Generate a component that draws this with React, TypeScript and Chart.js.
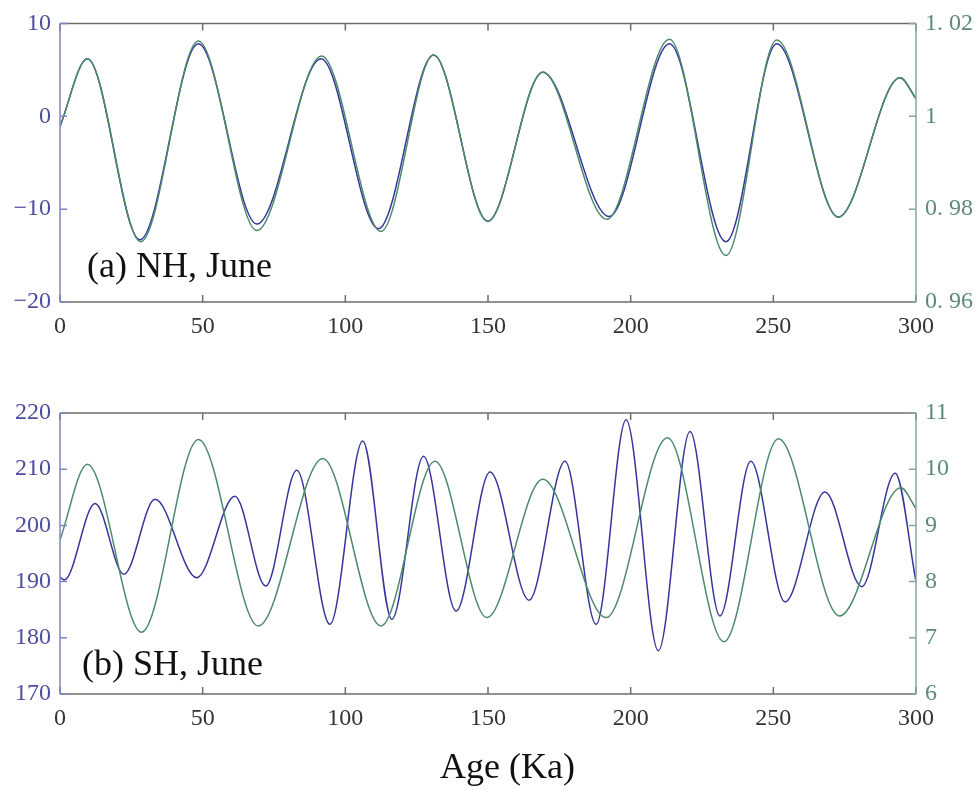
import React, { useEffect, useRef } from "react";
import { Chart, registerables } from "chart.js";

Chart.register(...registerables);

// ---------- shared x axis ----------
const xTicks = [0, 50, 100, 150, 200, 250, 300];

// ---------- (a) NH, June ----------
const nhTimeA = [0, 9.6, 28.0, 48.5, 69.0, 91.5, 111.6, 130.9, 149.9, 169.2, 192.5, 213.6, 233.4, 251.2, 272.8, 294.4, 300];
const nhInsolation = [-1.1, 6.2, -13.3, 7.8, -11.6, 6.2, -12.1, 6.6, -11.3, 4.75, -10.8, 7.8, -13.5, 7.8, -10.85, 4.15, 1.9];
const nhTimeB = [0, 9.6, 28.3, 48.5, 69.0, 91.7, 112.5, 130.9, 149.9, 169.2, 191.6, 213.6, 233.4, 251.2, 272.8, 294.4, 300];
const nhRatio = [0.9978, 1.0124, 0.973, 1.0162, 0.9754, 1.013, 0.9752, 1.0132, 0.9774, 1.0095, 0.9778, 1.0166, 0.97, 1.0164, 0.9783, 1.0083, 1.0038];
const nhLeftTicks = [-20, -10, 0, 10];
const nhLeftLabels = ["\u221220", "\u221210", "0", "10"];
const nhRightTicks = [0.96, 0.98, 1, 1.02];
const nhRightLabels = ["0. 96", "0. 98", "1", "1. 02"];

// ---------- (b) SH, June ----------
const shTimeA = [0, 1.5, 12.3, 22.4, 33.3, 47.9, 61.3, 72.1, 83.0, 94.6, 106.1, 116.3, 127.4, 138.8, 150.7, 164.4, 177.0, 187.9, 198.4, 209.7, 220.8, 231.3, 242.1, 254.1, 268.1, 281.0, 292.7, 300];
const shInsolation = [190.8, 190.3, 203.9, 191.3, 204.65, 190.7, 205.2, 189.2, 209.8, 182.4, 215.0, 183.3, 212.3, 184.75, 209.5, 186.7, 211.4, 182.4, 218.8, 177.7, 216.7, 183.9, 211.4, 186.4, 205.95, 189.1, 209.3, 190.0];
const shTimeB = [0, 9.6, 28.6, 48.5, 69.5, 92.1, 112.5, 131.4, 149.6, 169.2, 191.4, 212.9, 232.7, 251.8, 273.2, 294.7, 300];
const shValue = [8.74, 10.09, 7.1, 10.53, 7.21, 10.19, 7.21, 10.14, 7.36, 9.82, 7.36, 10.56, 6.93, 10.54, 7.39, 9.67, 9.3];
const shLeftTicks = [170, 180, 190, 200, 210, 220];
const shLeftLabels = ["170", "180", "190", "200", "210", "220"];
const shRightTicks = [6, 7, 8, 9, 10, 11];
const shRightLabels = ["6", "7", "8", "9", "10", "11"];

const BLUE = "#35359c";
const GREEN = "#4d8a6b";
const BLUE_AXIS = "#8484c2";
const GREEN_AXIS = "#86a69c";
const FRAME = "#6e6e6e";
const BLUE_TEXT = "#4d4d9e";
const GREEN_TEXT = "#5b8b74";
const SERIF = "'Liberation Serif', 'DejaVu Serif', serif";

const framePlugin = {
  id: "matlabFrame",
  afterDatasetsDraw(chart: any) {
    const ctx = chart.ctx;
    const { left, right, top, bottom } = chart.chartArea;
    const xs = chart.scales.x;
    const yl = chart.scales.y;
    const yr = chart.scales.y2;
    const tl = 7;
    ctx.save();
    ctx.lineWidth = 1.5;
    ctx.strokeStyle = FRAME;
    ctx.beginPath();
    ctx.moveTo(left, top);
    ctx.lineTo(right, top);
    ctx.moveTo(left, bottom);
    ctx.lineTo(right, bottom);
    xs.ticks.forEach((t: any) => {
      const px = xs.getPixelForValue(t.value);
      ctx.moveTo(px, bottom);
      ctx.lineTo(px, bottom - tl);
      ctx.moveTo(px, top);
      ctx.lineTo(px, top + tl);
    });
    ctx.stroke();
    ctx.strokeStyle = BLUE_AXIS;
    ctx.beginPath();
    ctx.moveTo(left, top);
    ctx.lineTo(left, bottom);
    yl.ticks.forEach((t: any) => {
      const py = yl.getPixelForValue(t.value);
      ctx.moveTo(left, py);
      ctx.lineTo(left + tl, py);
    });
    ctx.stroke();
    ctx.strokeStyle = GREEN_AXIS;
    ctx.beginPath();
    ctx.moveTo(right, top);
    ctx.lineTo(right, bottom);
    yr.ticks.forEach((t: any) => {
      const py = yr.getPixelForValue(t.value);
      ctx.moveTo(right, py);
      ctx.lineTo(right - tl, py);
    });
    ctx.stroke();
    ctx.restore();
  },
};

function pts(xs: number[], ys: number[]) {
  return xs.map((x, i) => ({ x, y: ys[i] }));
}

function makeConfig(opts: {
  blueX: number[]; blueY: number[]; greenX: number[]; greenY: number[];
  leftTicks: number[]; leftLabels: string[]; rightTicks: number[]; rightLabels: string[];
  padTop: number; xHeight: number;
}) {
  return {
    type: "line" as const,
    data: {
      datasets: [
        {
          data: pts(opts.greenX, opts.greenY),
          yAxisID: "y2",
          borderColor: GREEN,
          borderWidth: 1.5,
          pointRadius: 0,
          fill: false,
          cubicInterpolationMode: "monotone" as const,
        },
        {
          data: pts(opts.blueX, opts.blueY),
          yAxisID: "y",
          borderColor: BLUE,
          borderWidth: 1.5,
          pointRadius: 0,
          fill: false,
          cubicInterpolationMode: "monotone" as const,
        },
      ],
    },
    options: {
      animation: false as const,
      responsive: false,
      events: [],
      layout: { padding: { top: opts.padTop, left: 0, right: 0, bottom: 0 } },
      plugins: { legend: { display: false }, tooltip: { enabled: false } },
      scales: {
        x: {
          type: "linear" as const,
          min: 0,
          max: 300,
          grid: { display: false, drawTicks: false },
          border: { display: false },
          afterBuildTicks: (s: any) => { s.ticks = xTicks.map((v) => ({ value: v })); },
          afterFit: (s: any) => { s.height = opts.xHeight; },
          ticks: {
            color: "#333333",
            font: { family: SERIF, size: 24 },
            padding: 10,
            maxRotation: 0,
            callback: (v: any) => String(v),
          },
        },
        y: {
          type: "linear" as const,
          position: "left" as const,
          min: opts.leftTicks[0],
          max: opts.leftTicks[opts.leftTicks.length - 1],
          grid: { display: false, drawTicks: false },
          border: { display: false },
          afterBuildTicks: (s: any) => { s.ticks = opts.leftTicks.map((v) => ({ value: v })); },
          afterFit: (s: any) => { s.width = 60; },
          ticks: {
            color: BLUE_TEXT,
            font: { family: SERIF, size: 24 },
            padding: 9,
            callback: (_v: any, i: number) => opts.leftLabels[i],
          },
        },
        y2: {
          type: "linear" as const,
          position: "right" as const,
          min: opts.rightTicks[0],
          max: opts.rightTicks[opts.rightTicks.length - 1],
          grid: { display: false, drawTicks: false },
          border: { display: false },
          afterBuildTicks: (s: any) => { s.ticks = opts.rightTicks.map((v) => ({ value: v })); },
          afterFit: (s: any) => { s.width = 63; },
          ticks: {
            color: GREEN_TEXT,
            font: { family: SERIF, size: 24 },
            padding: 9,
            callback: (_v: any, i: number) => opts.rightLabels[i],
          },
        },
      },
    },
    plugins: [framePlugin],
  };
}

export default function App() {
  const topRef = useRef<HTMLCanvasElement>(null);
  const botRef = useRef<HTMLCanvasElement>(null);

  useEffect(() => {
    document.body.style.margin = "0";
    const c1 = new Chart(
      topRef.current as HTMLCanvasElement,
      makeConfig({
        blueX: nhTimeA, blueY: nhInsolation, greenX: nhTimeB, greenY: nhRatio,
        leftTicks: nhLeftTicks, leftLabels: nhLeftLabels,
        rightTicks: nhRightTicks, rightLabels: nhRightLabels,
        padTop: 19, xHeight: 38,
      }) as any
    );
    const c2 = new Chart(
      botRef.current as HTMLCanvasElement,
      makeConfig({
        blueX: shTimeA, blueY: shInsolation, greenX: shTimeB, greenY: shValue,
        leftTicks: shLeftTicks, leftLabels: shLeftLabels,
        rightTicks: shRightTicks, rightLabels: shRightLabels,
        padTop: 33, xHeight: 97,
      }) as any
    );
    return () => {
      c1.destroy();
      c2.destroy();
    };
  }, []);

  const labelStyle: React.CSSProperties = {
    position: "absolute",
    fontFamily: SERIF,
    fontSize: 36,
    lineHeight: "1",
    color: "#111111",
    whiteSpace: "nowrap",
  };

  return (
    <div style={{ position: "relative", width: 979, height: 791, background: "#ffffff", overflow: "hidden" }}>
      <canvas ref={topRef} width={979} height={340} style={{ position: "absolute", left: 0, top: 0, width: 979, height: 340 }} />
      <canvas ref={botRef} width={979} height={411} style={{ position: "absolute", left: 0, top: 380, width: 979, height: 411 }} />
      <div style={{ ...labelStyle, left: 87, top: 247 }}>(a) NH, June</div>
      <div style={{ ...labelStyle, left: 82, top: 645 }}>(b) SH, June</div>
      <div style={{ ...labelStyle, left: 440, top: 748 }}>Age (Ka)</div>
    </div>
  );
}
